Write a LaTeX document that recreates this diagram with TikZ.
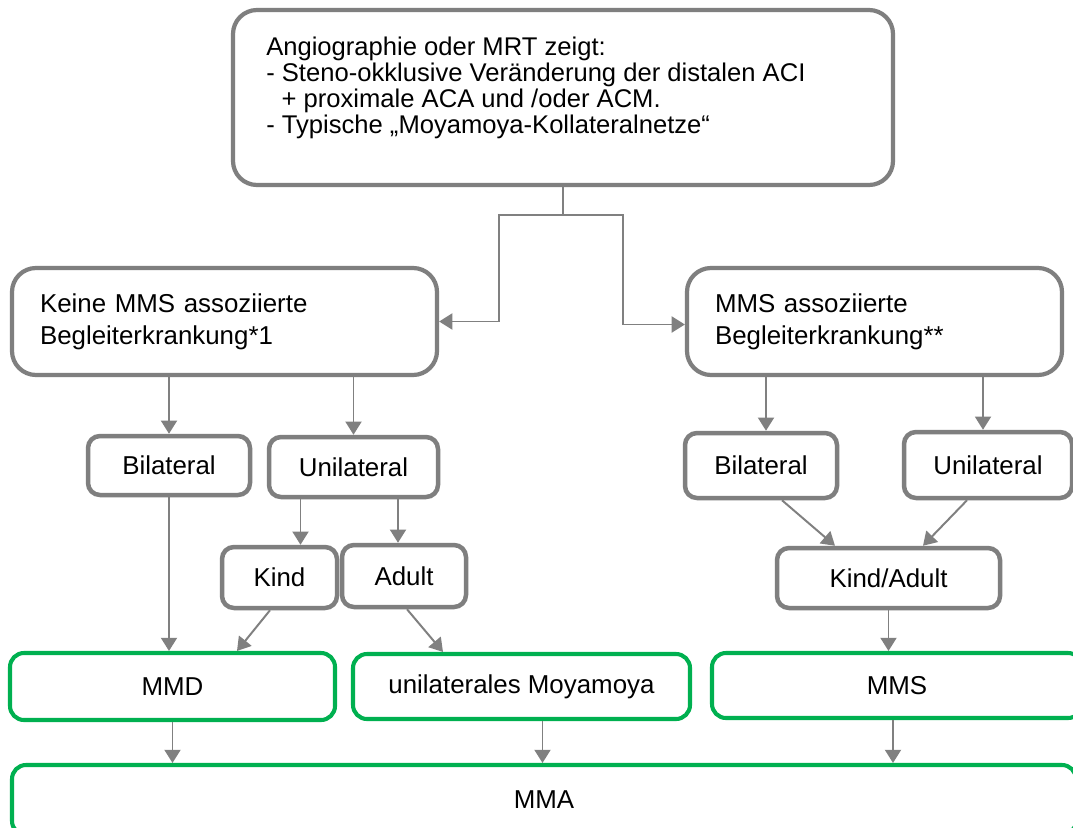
\documentclass[tikz,border=0pt]{standalone}
\usepackage{fontspec}
\setmainfont{Liberation Sans}
\usetikzlibrary{arrows.meta,calc}
\definecolor{boxgray}{HTML}{7F7F7F}
\definecolor{linegray}{HTML}{808080}
\definecolor{mmgreen}{HTML}{00B050}
\tikzset{
    graybox/.style={
        draw=boxgray,
        line width=3.2pt,
        rounded corners=0.3cm,
        fill=white,
        inner sep=0pt,
        font=\fontsize{18.4pt}{22.8pt}\selectfont
    },
    bigbox/.style={
        graybox,
        line width=3pt,
        rounded corners=0.6cm,
        align=left,
        inner xsep=0.7cm
    },
    greenbox/.style={
        graybox,
        draw=mmgreen,
        line width=2.9pt,
        rounded corners=0.35cm
    },
    arr/.style={
        draw=linegray,
        line width=1.4pt,
        -{Triangle[length=3.3mm, width=4mm]}
    },
    plain/.style={
        draw=linegray,
        line width=1.4pt
    }
}

\begin{document}
\begin{tikzpicture}[x=0.025cm, y=-0.025cm]
  \clip (0,0) rectangle (1073,828);
  \fill[white] (0,0) rectangle (1073,828);

  % Findings box
  \node[graybox, rounded corners=0.6cm, line width=3pt,
        minimum width=660*0.025cm, minimum height=175*0.025cm] (top) at (563,97.5) {};
  \node[anchor=north west, align=left, inner sep=0pt,
        font=\fontsize{18.2pt}{18.3pt}\selectfont] (toptext) at (266,37)
    {Angiographie oder MRT zeigt:\\
     - Steno-okklusive Veränderung der distalen ACI\\
     \hspace*{0.6em}+ proximale ACA und /oder ACM.\\
     - Typische „Moyamoya-Kollateralnetze“};

  % Second level
  \node[bigbox, text width=369*0.025cm, minimum height=107*0.025cm] (keine) at (224.5,321.5)
    {Keine MMS assoziierte\\Begleiterkrankung*1};
  \node[bigbox, text width=319*0.025cm, minimum height=107*0.025cm] (assoz) at (874.5,321.5)
    {MMS assoziierte\\Begleiterkrankung**};

  % Split from findings box
  \coordinate (split) at ($(top.south)+(0,28)$);
  \draw[plain] (top.south) -- (split);
  \draw[arr] (split) -| ($(keine.east)+(60,0)$) -- (keine.east);
  \draw[arr] (split) -| ($(assoz.west)+(-62,3)$) -- ($(assoz.west)+(0,3)$);

  % Left branch
  \node[graybox, minimum width=162*0.025cm, minimum height=59*0.025cm] (bilL) at (169,465.5) {Bilateral};
  \node[graybox, minimum width=169*0.025cm, minimum height=60*0.025cm] (uniL) at (353.5,467) {Unilateral};
  \node[graybox, minimum width=115*0.025cm, minimum height=61*0.025cm] (kind) at (279.5,577.5) {Kind};
  \node[graybox, minimum width=124*0.025cm, minimum height=62*0.025cm] (adult) at (404,576) {Adult};

  \draw[arr] (keine.south -| bilL.north) -- (bilL.north);
  \draw[arr] (keine.south -| uniL.north) -- (uniL.north);
  \draw[arr] ($(uniL.south)+(-53,0)$) coordinate (u1) -- (u1 |- kind.north);
  \draw[arr] ($(uniL.south)+(44.5,0)$) coordinate (u2) -- (u2 |- adult.north);

  % Right branch
  \node[graybox, minimum width=152*0.025cm, minimum height=65*0.025cm] (bilR) at (761,465.5) {Bilateral};
  \node[graybox, minimum width=168*0.025cm, minimum height=66*0.025cm] (uniR) at (988,465) {Unilateral};
  \node[graybox, minimum width=223*0.025cm, minimum height=60*0.025cm] (kindadult) at (888.5,578) {Kind/Adult};

  \draw[arr] ($(assoz.south)+(-108.5,0)$) coordinate (a1) -- (a1 |- bilR.north);
  \draw[arr] ($(assoz.south)+(108.5,0)$) coordinate (a2) -- (a2 |- uniR.north);
  \draw[arr] ($(bilR.south)+(21,0)$) -- ($(kindadult.north)+(-53.5,0)$);
  \draw[arr] ($(uniR.south)+(-21,0)$) -- ($(kindadult.north)+(34.5,0)$);

  % Diagnoses
  \node[greenbox, minimum width=325*0.025cm, minimum height=67*0.025cm] (mmd) at (172.5,686.5) {MMD};
  \node[greenbox, minimum width=337*0.025cm, minimum height=65*0.025cm] (unimoya) at (521.5,686.5) {unilaterales Moyamoya};
  \node[greenbox, minimum width=370*0.025cm, minimum height=65*0.025cm] (mms) at (897,685.5) {MMS};
  \node[greenbox, minimum width=1064*0.025cm, minimum height=70*0.025cm] (mma) at (544,800) {MMA};

  \draw[arr] (bilL.south) -- (bilL.south |- mmd.north);
  \draw[arr] ($(kind.south)+(-9.5,0)$) -- ($(mmd.north)+(64.5,0)$);
  \draw[arr] ($(adult.south)+(3,0)$) -- ($(unimoya.north)+(-78.5,0)$);
  \draw[arr] (kindadult.south) -- (kindadult.south |- mms.north);

  \draw[arr] (mmd.south) -- (mmd.south |- mma.north);
  \draw[arr] ($(unimoya.south)+(21,0)$) coordinate (m2) -- (m2 |- mma.north);
  \draw[arr] ($(mms.south)+(-4,0)$) coordinate (m3) -- (m3 |- mma.north);
\end{tikzpicture}
\end{document}
